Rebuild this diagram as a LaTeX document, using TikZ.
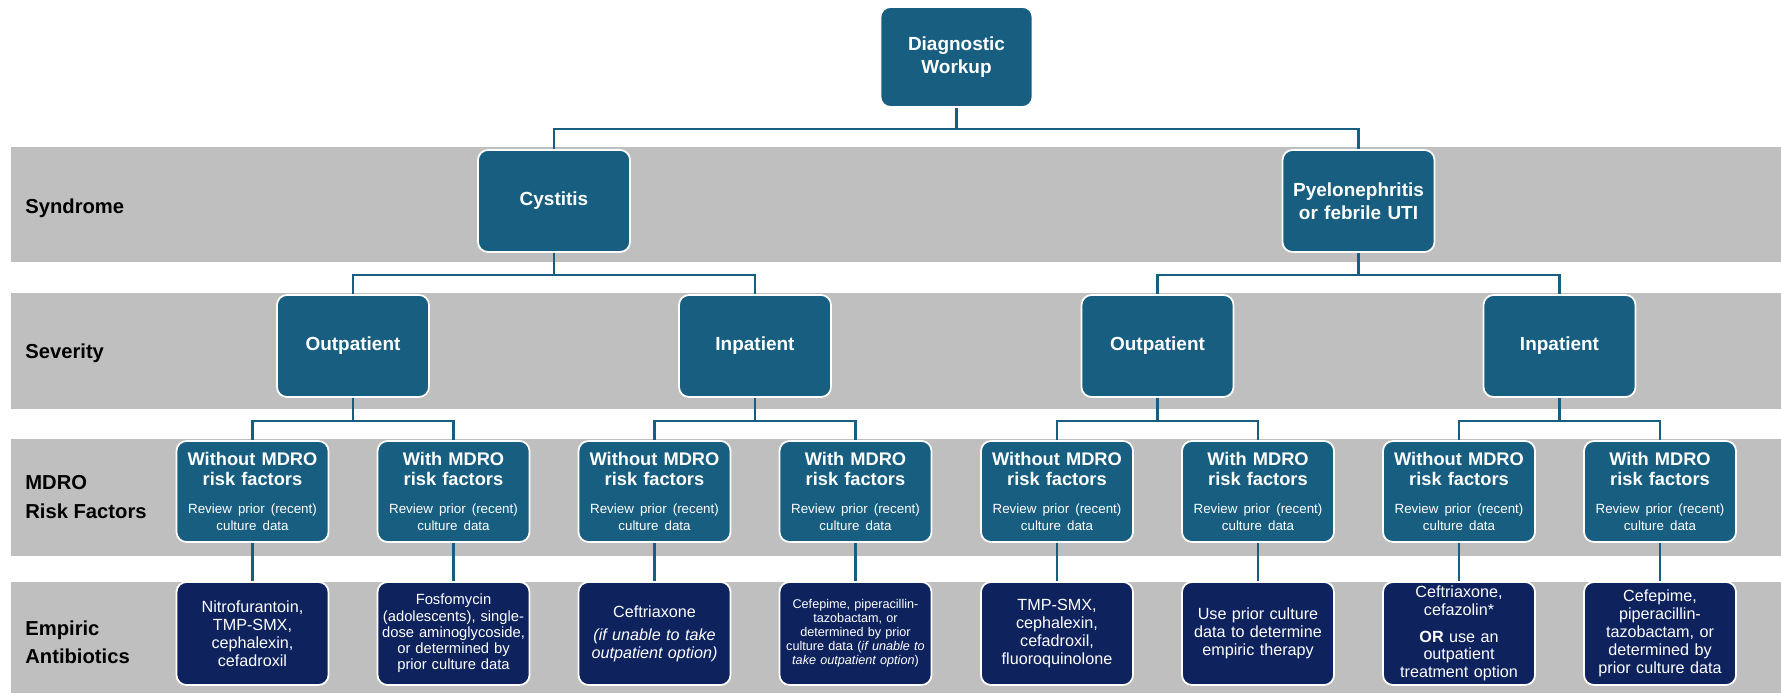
\documentclass[tikz,border=0pt]{standalone}
\usepackage{fontspec}
\setmainfont{Liberation Sans}
\usepackage{tikz}

\definecolor{boxteal}{HTML}{175E80}
\definecolor{boxnavy}{HTML}{0E225E}
\definecolor{bandgray}{HTML}{BFBFBF}

\begin{document}
\begin{tikzpicture}[
      tealbox/.style={draw=white, line width=1pt, fill=boxteal, rounded corners=0.2cm, text=white, align=center, text width=2.96cm, inner xsep=0.04cm, inner ysep=0pt, minimum height=2.04cm},
      headbox/.style={tealbox, font={\fontsize{10.8}{13}\selectfont\bfseries}},
      riskbox/.style={tealbox, minimum height=2.02cm, font={\fontsize{10.4}{11.7}\selectfont\bfseries}},
      drugbox/.style={tealbox, fill=boxnavy, minimum height=2.06cm, font={\fontsize{9.2}{10.2}\selectfont}},
      rowlabel/.style={anchor=west, align=left, inner sep=0pt, font={\fontsize{11.5}{16}\selectfont\bfseries}},
      link/.style={draw=boxteal, line width=1.5pt}]
      \useasboundingbox (0, 0) rectangle (35.62, 13.88);
      \fill[bandgray] (0.22, 10.94) rectangle (35.62, 8.64);
      \fill[bandgray] (0.22, 8.02) rectangle (35.62, 5.70);
      \fill[bandgray] (0.22, 5.10) rectangle (35.62, 2.76);
      \fill[bandgray] (0.22, 2.24) rectangle (35.62, 0.02);

      \node[rowlabel] (lsyn) at (0.5, 9.72) {Syndrome};
      \node[rowlabel] (lsev) at (0.5, 6.82) {Severity};
      \node[rowlabel] (lrisk) at (0.5, 3.94) {MDRO\\Risk Factors};
      \node[rowlabel] (ldrug) at (0.5, 1.04) {Empiric\\Antibiotics};

      \node[headbox, minimum height=2.0cm] (diag) at (19.13, 12.74) {Diagnostic\\Workup};
      \node[headbox] (cyst) at (11.08, 9.86) {Cystitis};
      \node[headbox] (pyelo) at (27.17, 9.86) {Pyelonephritis\\or febrile UTI};

      \node[headbox] (cysOut) at (7.06, 6.96) {Outpatient};
      \node[headbox] (cysIn) at (15.10, 6.96) {Inpatient};
      \node[headbox] (pyeOut) at (23.15, 6.96) {Outpatient};
      \node[headbox] (pyeIn) at (31.19, 6.96) {Inpatient};

      \node[riskbox] (r1) at (5.05, 4.05) {Without MDRO\\risk factors\par\vspace{5.5pt}{\mdseries\fontsize{7.6}{10}\selectfont Review prior (recent)\\culture data\par}};
      \node[riskbox] (r2) at (9.07, 4.05) {With MDRO\\risk factors\par\vspace{5.5pt}{\mdseries\fontsize{7.6}{10}\selectfont Review prior (recent)\\culture data\par}};
      \node[riskbox] (r3) at (13.09, 4.05) {Without MDRO\\risk factors\par\vspace{5.5pt}{\mdseries\fontsize{7.6}{10}\selectfont Review prior (recent)\\culture data\par}};
      \node[riskbox] (r4) at (17.11, 4.05) {With MDRO\\risk factors\par\vspace{5.5pt}{\mdseries\fontsize{7.6}{10}\selectfont Review prior (recent)\\culture data\par}};
      \node[riskbox] (r5) at (21.14, 4.05) {Without MDRO\\risk factors\par\vspace{5.5pt}{\mdseries\fontsize{7.6}{10}\selectfont Review prior (recent)\\culture data\par}};
      \node[riskbox] (r6) at (25.16, 4.05) {With MDRO\\risk factors\par\vspace{5.5pt}{\mdseries\fontsize{7.6}{10}\selectfont Review prior (recent)\\culture data\par}};
      \node[riskbox] (r7) at (29.18, 4.05) {Without MDRO\\risk factors\par\vspace{5.5pt}{\mdseries\fontsize{7.6}{10}\selectfont Review prior (recent)\\culture data\par}};
      \node[riskbox] (r8) at (33.20, 4.05) {With MDRO\\risk factors\par\vspace{5.5pt}{\mdseries\fontsize{7.6}{10}\selectfont Review prior (recent)\\culture data\par}};

      \node[drugbox] (d1) at (5.05, 1.21) {Nitrofurantoin,\\TMP-SMX,\\cephalexin,\\cefadroxil};
      \node[drugbox, font={\fontsize{8.4}{9.2}\selectfont}] (d2) at (9.07, 1.21) {Fosfomycin\\(adolescents), single-\\dose aminoglycoside,\\or determined by\\prior culture data};
      \node[drugbox] (d3) at (13.09, 1.21) {Ceftriaxone\par\vspace{3pt}\textit{(if unable to take\\outpatient option)}\par};
      \node[drugbox, font={\fontsize{7.2}{8}\selectfont}] (d4) at (17.11, 1.21) {Cefepime, piperacillin-\\tazobactam, or\\determined by prior\\culture data (\textit{if unable to}\\\textit{take outpatient option})};
      \node[drugbox] (d5) at (21.14, 1.21) {TMP-SMX,\\cephalexin,\\cefadroxil,\\fluoroquinolone};
      \node[drugbox] (d6) at (25.16, 1.21) {Use prior culture\\data to determine\\empiric therapy};
      \node[drugbox] (d7) at (29.18, 1.21) {Ceftriaxone,\\cefazolin*\par\vspace{5pt}\textbf{OR} use an\\outpatient\\treatment option\par};
      \node[drugbox] (d8) at (33.20, 1.21) {Cefepime,\\piperacillin-\\tazobactam, or\\determined by\\prior culture data};

      \coordinate (jDiag) at ([yshift=-0.42cm]diag.south);
      \coordinate (jCyst) at ([yshift=-0.44cm]cyst.south);
      \coordinate (jPyelo) at ([yshift=-0.44cm]pyelo.south);
      \coordinate (jCysOut) at ([yshift=-0.46cm]cysOut.south);
      \coordinate (jCysIn) at ([yshift=-0.46cm]cysIn.south);
      \coordinate (jPyeOut) at ([yshift=-0.46cm]pyeOut.south);
      \coordinate (jPyeIn) at ([yshift=-0.46cm]pyeIn.south);

      \draw[link] (diag.south) -- (jDiag);
      \draw[link] (cyst.north) |- (jDiag) -| (pyelo.north);
      \draw[link] (cyst.south) -- (jCyst);
      \draw[link] (cysOut.north) |- (jCyst) -| (cysIn.north);
      \draw[link] (pyelo.south) -- (jPyelo);
      \draw[link] (pyeOut.north) |- (jPyelo) -| (pyeIn.north);
      \draw[link] (cysOut.south) -- (jCysOut);
      \draw[link] (r1.north) |- (jCysOut) -| (r2.north);
      \draw[link] (cysIn.south) -- (jCysIn);
      \draw[link] (r3.north) |- (jCysIn) -| (r4.north);
      \draw[link] (pyeOut.south) -- (jPyeOut);
      \draw[link] (r5.north) |- (jPyeOut) -| (r6.north);
      \draw[link] (pyeIn.south) -- (jPyeIn);
      \draw[link] (r7.north) |- (jPyeIn) -| (r8.north);
      \draw[link] (r1.south) -- (d1.north);
      \draw[link] (r2.south) -- (d2.north);
      \draw[link] (r3.south) -- (d3.north);
      \draw[link] (r4.south) -- (d4.north);
      \draw[link] (r5.south) -- (d5.north);
      \draw[link] (r6.south) -- (d6.north);
      \draw[link] (r7.south) -- (d7.north);
      \draw[link] (r8.south) -- (d8.north);
\end{tikzpicture}
\end{document}
